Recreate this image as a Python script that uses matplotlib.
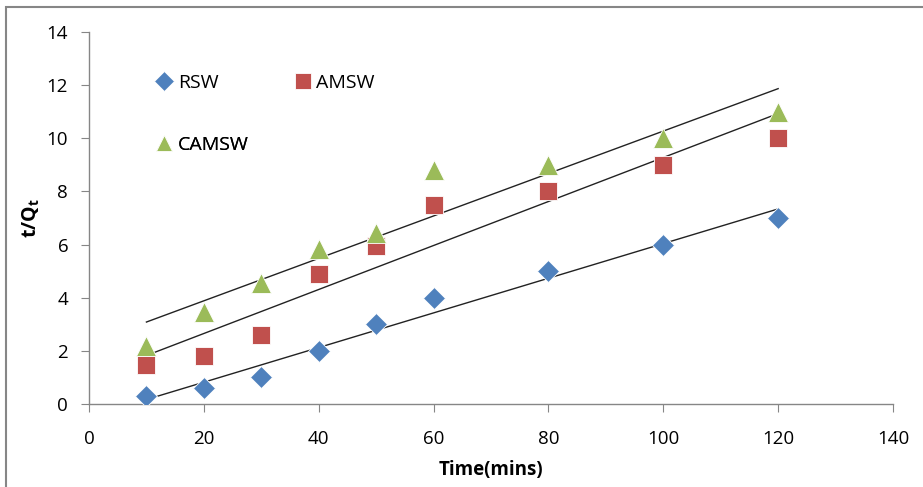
import numpy as np
import matplotlib
matplotlib.use("Agg")
import matplotlib.pyplot as plt
from matplotlib.patches import Rectangle

plt.rcParams['font.family'] = ['Open Sans', 'DejaVu Sans']

time = [10, 20, 30, 40, 50, 60, 80, 100, 120]
rsw = [0.3, 0.6, 1.0, 2.0, 3.0, 4.0, 5.0, 6.0, 7.0]
amsw = [1.45, 1.8, 2.6, 4.9, 5.95, 7.5, 8.0, 9.0, 10.0]
camsw = [2.2, 3.45, 4.55, 5.85, 6.45, 8.8, 9.0, 10.0, 11.0]

xticks = [0, 20, 40, 60, 80, 100, 120, 140]
yticks = [0, 2, 4, 6, 8, 10, 12, 14]

fig = plt.figure(figsize=(9.23, 4.87), dpi=100)
ax = fig.add_axes([89/923, 1-404/487, (893-89)/923, (404-32)/487])

series = [
    ("RSW", rsw, "D", "#4F81BD", 11.5),
    ("AMSW", amsw, "s", "#C0504D", 13.5),
    ("CAMSW", camsw, "^", "#9BBB59", 14),
]
handles = {}
x = np.array(time, dtype=float)
for name, ys, mk, col, ms in series:
    h, = ax.plot(time, ys, linestyle='none', marker=mk, color=col,
                 markersize=ms, markeredgecolor='white', markeredgewidth=0.6,
                 label=name, zorder=3)
    handles[name] = h
    p = np.polyfit(x, np.array(ys), 1)
    xx = np.array([x.min(), x.max()])
    ax.plot(xx, np.polyval(p, xx), color='#222222', linewidth=1.0, zorder=2)

ax.set_xlim(0, 140)
ax.set_ylim(0, 14)
ax.set_xticks(xticks)
ax.set_yticks(yticks)
for s in ['top', 'right']:
    ax.spines[s].set_visible(False)
for s in ['left', 'bottom']:
    ax.spines[s].set_color('#868686')
    ax.spines[s].set_linewidth(1.0)
ax.tick_params(axis='both', direction='out', length=6, color='#868686',
               labelsize=13.5, labelcolor='#000000')
ax.tick_params(axis='x', pad=13)
ax.tick_params(axis='y', pad=9)

ax.set_xlabel('Time(mins)', fontsize=13.5, fontweight='bold', labelpad=8)
ax.set_ylabel(r't/Q$_\mathregular{t}$', fontsize=14, fontweight='bold', labelpad=3)

# legend entries placed individually (Excel-style layout)
legend_pos = {"RSW": (0.083, 0.863), "AMSW": (0.255, 0.863), "CAMSW": (0.083, 0.696)}
for name in ["RSW", "AMSW", "CAMSW"]:
    lg = ax.legend([handles[name]], [name], frameon=False, loc='center left',
                   bbox_to_anchor=legend_pos[name], fontsize=14,
                   handlelength=0.9, handletextpad=0.25, borderpad=0,
                   borderaxespad=0, markerscale=0.85)
    ax.add_artist(lg)

fig.patches.append(Rectangle((6/923, -0.05), 1.2, 1 - 6.5/487 + 0.05,
                             transform=fig.transFigure, fill=False,
                             edgecolor='#868686', linewidth=1.5))

fig.savefig('out.png', dpi=100)
